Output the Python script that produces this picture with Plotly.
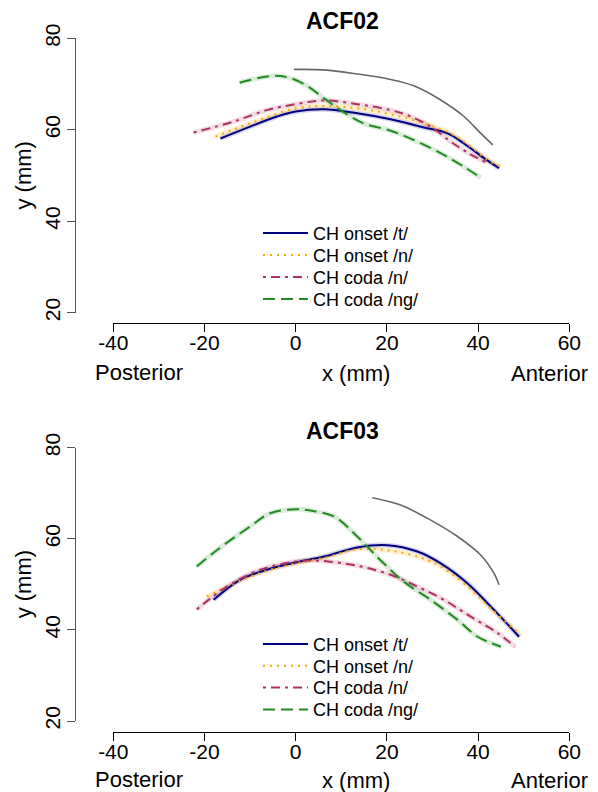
import plotly.graph_objects as go

W, H = 598, 792

# ---------------- data ----------------
# Panel ACF02
a2_t_x = [-16.5, -10, -4.1, 0, 6.2, 13.5, 20.8, 28.1, 33.3, 36.9, 41.3, 44.6]
a2_t_y = [58.1, 60.7, 62.9, 64.0, 64.5, 63.6, 62.3, 60.5, 59.2, 57.0, 53.8, 51.6]
a2_on_x = [-17.6, -10, 0, 6.2, 13.5, 20.8, 28.1, 34.0, 38.4, 42.1, 45.0]
a2_on_y = [58.5, 61.4, 64.7, 65.2, 64.7, 63.4, 61.4, 59.2, 56.3, 53.4, 51.9]
a2_cn_x = [-22.4, -13.6, -6.3, 0, 6.2, 13.5, 20.8, 24.5, 29.6, 34.0, 37.7, 41.7]
a2_cn_y = [59.4, 61.8, 64.3, 65.6, 66.4, 65.6, 64.3, 63.2, 60.7, 57.4, 55.0, 52.9]
a2_ng_x = [-12.3, -4.8, -1.2, 2.5, 6.2, 9.8, 14.9, 20.8, 26.7, 32.5, 36.9, 40.6]
a2_ng_y = [70.3, 71.8, 71.3, 69.6, 66.9, 64.3, 61.4, 59.8, 57.4, 54.5, 51.9, 49.5]
a2_pal_x = [-0.4, 6.2, 13.5, 20.8, 25.9, 31.8, 36.9, 40.6, 43.2]
a2_pal_y = [73.2, 73.1, 72.2, 71.0, 69.6, 66.5, 62.9, 59.2, 56.7]

# Panel ACF03
a3_t_x = [-18, -12.2, -6.3, 0, 6.2, 13.5, 20.1, 26.7, 31.8, 37.7, 42.8, 49.0]
a3_t_y = [46.6, 51.0, 53.2, 54.8, 56.1, 58.1, 58.6, 57.2, 54.6, 50.2, 45.1, 38.5]
a3_on_x = [-19.5, -12.2, -6.3, 0, 6.2, 13.5, 20.1, 26.7, 31.8, 37.7, 42.8, 49.4]
a3_on_y = [47.3, 50.8, 53.0, 54.6, 55.8, 57.7, 57.5, 56.1, 53.9, 49.5, 44.7, 38.9]
a3_cn_x = [-21.7, -15.1, -7.8, 0, 4.7, 13.5, 20.8, 26.7, 32.5, 38.4, 44.3, 48.1]
a3_cn_y = [44.5, 49.5, 53.2, 55.0, 55.2, 54.1, 52.1, 49.5, 46.6, 42.9, 39.3, 36.3]
a3_ng_x = [-21.7, -17.3, -10, -5.6, 0, 3.2, 8.4, 13.5, 18.6, 23.7, 29.6, 35.5, 39.9, 45.0]
a3_ng_y = [53.9, 57.5, 62.7, 65.6, 66.5, 66.2, 64.9, 60.5, 55.3, 50.6, 46.6, 42.2, 38.5, 36.3]
a3_pal_x = [16.8, 23.0, 29.6, 35.5, 40.6, 43.5, 44.6]
a3_pal_y = [69.0, 67.4, 64.1, 60.5, 56.4, 52.4, 49.9]

series_names = ["CH onset /t/", "CH onset /n/", "CH coda /n/", "CH coda /ng/"]
x_ticks = [-40, -20, 0, 20, 40, 60]
x_tick_labels = ["-40", "-20", "0", "20", "40", "60"]
y_ticks = [20, 40, 60, 80]
y_tick_labels = ["20", "40", "60", "80"]
panel_titles = ["ACF02", "ACF03"]

# ---------------- styles ----------------
colors = ["#000080", "#FFA500", "#B03060", "#228B22"]
bands = ["rgba(0,0,128,0.16)", "rgba(255,165,0,0.16)", "rgba(176,48,96,0.16)", "rgba(34,139,34,0.16)"]
dashes = ["solid", "2px,5px", "3px,5px,9px,5px", "12px,6px"]
FONT = "Liberation Sans, Arial, sans-serif"

def px(x):
    return x / W

def py(y):
    return 1 - y / H

panels = [
    dict(series=[(a2_t_x, a2_t_y), (a2_on_x, a2_on_y), (a2_cn_x, a2_cn_y), (a2_ng_x, a2_ng_y)],
         pal=(a2_pal_x, a2_pal_y), ytop=38.3, ybot=312.7, xline=322.7, title_y=21.5, lab_y=373.0,
         leg_rows=[233.3, 255.3, 277.3, 299.3]),
    dict(series=[(a3_t_x, a3_t_y), (a3_on_x, a3_on_y), (a3_cn_x, a3_cn_y), (a3_ng_x, a3_ng_y)],
         pal=(a3_pal_x, a3_pal_y), ytop=447.7, ybot=721.0, xline=731.7, title_y=431.0, lab_y=780.0,
         leg_rows=[644.3, 666.0, 687.7, 709.7]),
]

fig = go.Figure()
annotations = []
layout = {}
leg_n = 0
for i, p in enumerate(panels):
    xa = "x" if i == 0 else "x2"
    ya = "y" if i == 0 else "y2"
    # bands
    for k, (sx, sy) in enumerate(p["series"]):
        fig.add_trace(go.Scatter(x=sx, y=sy, mode="lines", xaxis=xa, yaxis=ya,
                                 line=dict(color=bands[k], width=5, shape="spline"),
                                 showlegend=False, hoverinfo="skip"))
    fig.add_trace(go.Scatter(x=p["pal"][0], y=p["pal"][1], mode="lines", xaxis=xa, yaxis=ya,
                             line=dict(color="#666666", width=1.6, shape="spline"),
                             showlegend=False))
    for k, (sx, sy) in enumerate(p["series"]):
        leg_n += 1
        leg = "legend" if leg_n == 1 else "legend%d" % leg_n
        fig.add_trace(go.Scatter(x=sx, y=sy, mode="lines", xaxis=xa, yaxis=ya, name=series_names[k],
                                 line=dict(color=colors[k], width=2, dash=dashes[k], shape="spline"),
                                 legend=leg, showlegend=True))
        layout[leg] = dict(x=px(258), y=py(p["leg_rows"][k]), xanchor="left", yanchor="middle",
                           bgcolor="rgba(0,0,0,0)", itemwidth=45,
                           font=dict(family=FONT, size=18, color="#000000"))
    axkey = "xaxis" if i == 0 else "xaxis2"
    aykey = "yaxis" if i == 0 else "yaxis2"
    layout[axkey] = dict(domain=[px(113.3), px(569.3)], range=[-40, 60], anchor="free",
                         position=py(p["xline"]), showline=True, linecolor="#000000", linewidth=1,
                         ticks="outside", ticklen=8, tickcolor="#000000",
                         tickmode="array", tickvals=x_ticks, ticktext=x_tick_labels,
                         ticklabelstandoff=-7,
                         showgrid=False, zeroline=False, automargin=False,
                         tickfont=dict(family=FONT, size=21, color="#000000"))
    layout[aykey] = dict(domain=[py(p["ybot"]), py(p["ytop"])], range=[20, 80], anchor="free",
                         position=px(75), showline=True, linecolor="#555555", linewidth=1.3,
                         ticks="outside", ticklen=8, tickcolor="#555555",
                         tickmode="array", tickvals=y_ticks, ticktext=y_tick_labels,
                         ticklabelstandoff=-2,
                         tickangle=-90, showgrid=False, zeroline=False, automargin=False,
                         tickfont=dict(family=FONT, size=21, color="#000000"))
    annotations += [
        dict(text="<b>" + panel_titles[i] + "</b>", x=px(343), y=py(p["title_y"]), showarrow=False,
             font=dict(family=FONT, size=23, color="#000000")),
        dict(text="y (mm)", x=px(23), y=py((p["ytop"] + p["ybot"]) / 2), textangle=-90, showarrow=False,
             font=dict(family=FONT, size=22, color="#000000")),
        dict(text="x (mm)", x=px(356), y=py(p["lab_y"]), showarrow=False,
             font=dict(family=FONT, size=22, color="#000000")),
        dict(text="Posterior", x=px(138.7), y=py(p["lab_y"] - 1), showarrow=False,
             font=dict(family=FONT, size=22, color="#000000")),
        dict(text="Anterior", x=px(549), y=py(p["lab_y"]), showarrow=False,
             font=dict(family=FONT, size=22, color="#000000")),
    ]

for a in annotations:
    a.update(xref="paper", yref="paper", xanchor="center", yanchor="middle", borderpad=0)

fig.update_layout(width=W, height=H, margin=dict(l=0, r=0, t=0, b=0),
                  paper_bgcolor="white", plot_bgcolor="white",
                  annotations=annotations, **layout)
fig.write_html("out.html", config={"displayModeBar": False},
               post_script="document.body.style.margin='0';document.body.style.padding='0';")
